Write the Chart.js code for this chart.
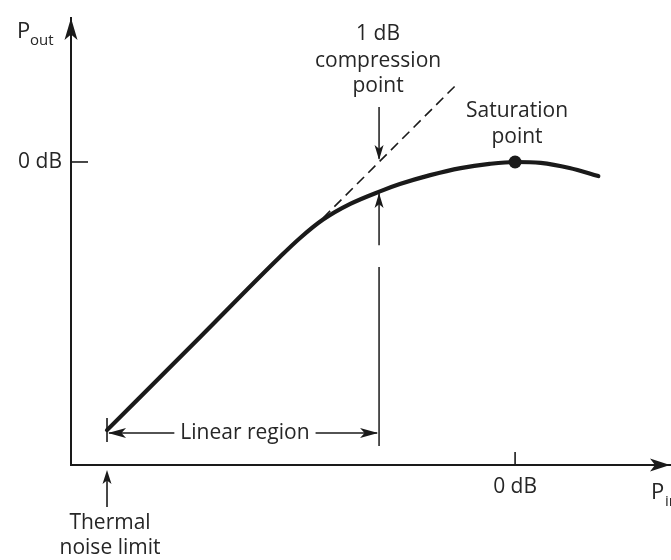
<!DOCTYPE html>
<html><head><meta charset="utf-8">
<script src="https://cdn.jsdelivr.net/npm/chart.js@4/dist/chart.umd.min.js"></script>
<style>html,body{margin:0;padding:0;background:#fff}#wrap{width:671px;height:560px;position:relative}</style>
</head><body><div id="wrap"><canvas id="c"></canvas></div>
<script>
// ---- data (dB) ----
const pinValues  = [-12.75, -9.8, -7.35, -6.7, -6.0, -5.15, -4.2, -3.6, -2.65, -1.7, -0.8, 0, 0.8, 1.7, 2.6];
const poutValues = [-8.38, -5.43, -2.97, -2.36, -1.8, -1.31, -0.91, -0.69, -0.41, -0.19, -0.06, 0, -0.03, -0.19, -0.44];
const tangentPin  = [-6.0, -1.8];
const tangentPout = [-1.75, 2.45];
const saturationPin  = [0];
const saturationPout = [0];
const xTickValues = [0];
const xTickLabels = ['0 dB'];
const yTickValues = [0];
const yTickLabels = ['0 dB'];
const compressionPin = -4.25;
const thermalPin = -12.75;

const FONT = '"Open Sans", "DejaVu Sans", sans-serif';
const INK = '#1a1a1a';
const TXT = '#262626';

function head(ctx, x, y, ang, len, half) {
  ctx.save(); ctx.translate(x, y); ctx.rotate(ang);
  ctx.beginPath(); ctx.moveTo(0, 0); ctx.lineTo(-len, -half); ctx.lineTo(-len * 0.75, 0); ctx.lineTo(-len, half);
  ctx.closePath(); ctx.fill(); ctx.restore();
}
function line(ctx, x1, y1, x2, y2, w) {
  ctx.lineWidth = w; ctx.beginPath(); ctx.moveTo(x1, y1); ctx.lineTo(x2, y2); ctx.stroke();
}

const annot = {
  id: 'annot',
  afterDraw(chart) {
    const ctx = chart.ctx, xs = chart.scales.x, ys = chart.scales.y, a = chart.chartArea;
    const X = v => xs.getPixelForValue(v), Y = v => ys.getPixelForValue(v);
    ctx.save();
    ctx.strokeStyle = INK; ctx.fillStyle = INK; ctx.lineCap = 'butt';
    // axis arrowheads
    head(ctx, a.left, a.top, -Math.PI / 2, 22, 6.5);
    head(ctx, a.right, a.bottom, 0, 20, 6.5);
    // inner ticks
    line(ctx, a.left, Y(0), a.left + 17, Y(0), 1.6);
    line(ctx, X(0), a.bottom, X(0), a.bottom - 13, 1.6);
    // 1 dB compression arrows
    const cx = X(compressionPin);
    line(ctx, cx, Y(1.72), cx, Y(0.1), 1.5);
    head(ctx, cx, Y(0.06), Math.PI / 2, 15, 4.5);
    line(ctx, cx, Y(-2.6), cx, Y(-0.98), 1.5);
    head(ctx, cx, Y(-0.97), -Math.PI / 2, 15, 4.5);
    line(ctx, cx, Y(-3.28), cx, Y(-8.88), 1.5);
    // linear region
    const tx = X(thermalPin), ly = Y(-8.47);
    line(ctx, tx, ly - 15, tx, ly + 9, 1.6);
    ctx.font = '21px ' + FONT; ctx.textAlign = 'center'; ctx.textBaseline = 'middle';
    const lcx = X(-8.44), lw = ctx.measureText('Linear region').width;
    line(ctx, tx + 2, ly, lcx - lw / 2 - 6, ly, 1.5);
    head(ctx, tx + 1, ly, Math.PI, 18, 5);
    line(ctx, lcx + lw / 2 + 6, ly, cx - 2, ly, 1.5);
    head(ctx, cx - 1, ly, 0, 18, 5);
    // thermal noise arrow
    line(ctx, tx, a.bottom + 42, tx, a.bottom + 8, 1.6);
    head(ctx, tx, a.bottom + 5, -Math.PI / 2, 14, 4.5);
    // texts
    ctx.fillStyle = TXT;
    ctx.fillText('Linear region', lcx, ly);
    ctx.fillText('1 dB', cx - 1, Y(4.0));
    ctx.fillText('compression', cx - 1, Y(3.17));
    ctx.fillText('point', cx - 1, Y(2.36));
    ctx.fillText('Saturation', X(0.06), Y(1.6));
    ctx.fillText('point', X(0.06), Y(0.77));
    ctx.fillText('Thermal', tx + 3, a.bottom + 58);
    ctx.fillText('noise limit', tx + 3, a.bottom + 83);
    // axis titles
    ctx.textAlign = 'left'; ctx.textBaseline = 'alphabetic';
    ctx.font = '22px ' + FONT; ctx.fillText('P', 17, 38);
    ctx.font = '15px ' + FONT; ctx.fillText('out', 30, 45);
    ctx.font = '22px ' + FONT; ctx.fillText('P', 651, 499);
    ctx.font = '15px ' + FONT; ctx.fillText('in', 665, 506);
    ctx.restore();
  }
};

function zeroPad(s) { s.paddingLeft = 0; s.paddingRight = 0; s.paddingTop = 0; s.paddingBottom = 0; }

new Chart(document.getElementById('c'), {
  type: 'scatter',
  data: {
    datasets: [
      { data: pinValues.map((v, i) => ({ x: v, y: poutValues[i] })), showLine: true, borderColor: INK,
        borderWidth: 4.2, pointRadius: 0, cubicInterpolationMode: 'monotone', borderCapStyle: 'round' },
      { data: tangentPin.map((v, i) => ({ x: v, y: tangentPout[i] })), showLine: true, borderColor: INK,
        borderWidth: 1.6, borderDash: [10, 6], pointRadius: 0 },
      { data: saturationPin.map((v, i) => ({ x: v, y: saturationPout[i] })), showLine: false,
        pointRadius: 6.5, pointBackgroundColor: INK, pointBorderColor: INK, pointBorderWidth: 0 }
    ]
  },
  options: {
    responsive: true, maintainAspectRatio: false, animation: false,
    layout: { autoPadding: false, padding: { top: 18, right: 1, left: 0, bottom: 0 } },
    plugins: { legend: { display: false }, tooltip: { enabled: false } },
    scales: {
      x: {
        type: 'linear', min: -13.875, max: 4.84,
        afterBuildTicks: s => { s.ticks = xTickValues.map(v => ({ value: v })); },
        afterFit: s => { s.height = 95; zeroPad(s); },
        grid: { display: false, drawTicks: false },
        border: { display: true, color: INK, width: 2 },
        ticks: { padding: 9, color: TXT, font: { family: FONT, size: 21 },
          callback: v => { const i = xTickValues.indexOf(v); return i >= 0 ? xTickLabels[i] : ''; } }
      },
      y: {
        type: 'linear', min: -9.47, max: 4.5,
        afterBuildTicks: s => { s.ticks = yTickValues.map(v => ({ value: v })); },
        afterFit: s => { s.width = 71; zeroPad(s); },
        grid: { display: false, drawTicks: false },
        border: { display: true, color: INK, width: 2 },
        ticks: { padding: 9, color: TXT, font: { family: FONT, size: 21 },
          callback: v => { const i = yTickValues.indexOf(v); return i >= 0 ? yTickLabels[i] : ''; } }
      }
    }
  },
  plugins: [annot]
});
</script>
</body></html>
